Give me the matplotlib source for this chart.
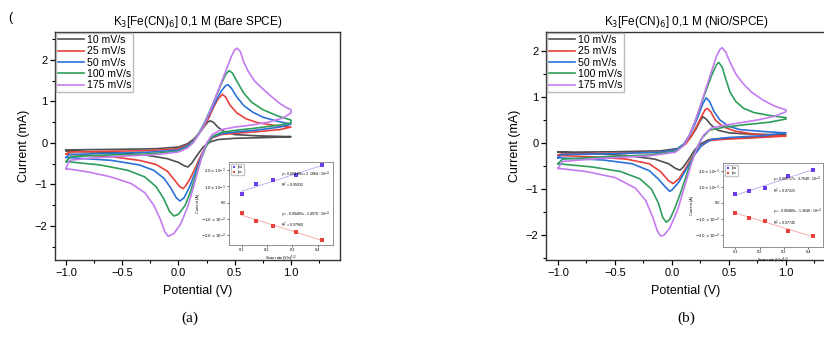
import numpy as np
import matplotlib
matplotlib.use('Agg')
import matplotlib.pyplot as plt
from matplotlib.ticker import MultipleLocator, FixedLocator

plt.rcParams['font.family'] = ['Liberation Sans', 'DejaVu Sans']

### CV curves, (E [V], I [mA]), loop -1 -> +1 -> -1
labels = ['10 mV/s', '25 mV/s', '50 mV/s', '100 mV/s', '175 mV/s']
colors = ['#505050', '#e8413c', '#2a72d8', '#2e9e5a', '#c47bf0']

bare_10 = [(-1.0,-0.17),(-0.7,-0.16),(-0.4,-0.15),(-0.2,-0.14),(0.0,-0.1),(0.08,-0.02),(0.14,0.1),(0.19,0.25),
           (0.23,0.4),(0.26,0.5),(0.28,0.53),(0.31,0.5),(0.35,0.38),(0.4,0.28),(0.5,0.2),(0.7,0.17),(1.0,0.15),
           (0.8,0.13),(0.5,0.11),(0.35,0.08),(0.28,0.02),(0.22,-0.1),(0.17,-0.28),(0.12,-0.48),(0.085,-0.58),
           (0.05,-0.55),(0.0,-0.47),(-0.1,-0.38),(-0.3,-0.29),(-0.6,-0.23),(-1.0,-0.2),(-1.0,-0.17)]
bare_25 = [(-1.0,-0.27),(-0.97,-0.22),(-0.6,-0.2),(-0.3,-0.19),(0.0,-0.14),(0.08,-0.05),(0.13,0.05),(0.18,0.22),
           (0.23,0.42),(0.27,0.6),(0.31,0.85),(0.35,1.05),(0.39,1.17),(0.42,1.1),(0.46,0.9),(0.52,0.72),(0.6,0.58),
           (0.7,0.49),(0.85,0.42),(1.0,0.38),(0.9,0.32),(0.7,0.27),(0.5,0.23),(0.38,0.2),(0.3,0.12),(0.25,-0.05),
           (0.2,-0.3),(0.15,-0.6),(0.1,-0.88),(0.06,-1.05),(0.04,-1.1),(0.01,-1.05),(-0.04,-0.88),(-0.1,-0.68),
           (-0.2,-0.52),(-0.35,-0.42),(-0.6,-0.33),(-1.0,-0.27)]
bare_50 = [(-1.0,-0.35),(-0.97,-0.28),(-0.6,-0.25),(-0.3,-0.23),(0.0,-0.17),(0.08,-0.07),(0.13,0.04),(0.18,0.22),
           (0.23,0.45),(0.28,0.72),(0.33,1.0),(0.38,1.25),(0.42,1.38),(0.44,1.4),(0.47,1.32),(0.52,1.1),(0.58,0.9),
           (0.66,0.74),(0.75,0.62),(0.88,0.52),(1.0,0.45),(0.9,0.38),(0.7,0.31),(0.5,0.26),(0.38,0.22),(0.3,0.14),
           (0.25,-0.05),(0.2,-0.35),(0.15,-0.7),(0.1,-1.05),(0.05,-1.32),(0.013,-1.4),(-0.02,-1.32),(-0.07,-1.08),
           (-0.13,-0.85),(-0.22,-0.66),(-0.35,-0.53),(-0.6,-0.42),(-1.0,-0.35)]
bare_100 = [(-1.0,-0.45),(-0.96,-0.33),(-0.6,-0.29),(-0.3,-0.27),(0.0,-0.2),(0.08,-0.1),(0.13,0.02),(0.18,0.22),
            (0.23,0.48),(0.28,0.78),(0.33,1.1),(0.38,1.42),(0.42,1.65),(0.45,1.74),(0.48,1.68),(0.52,1.48),
            (0.58,1.2),(0.65,0.98),(0.75,0.8),(0.88,0.65),(1.0,0.55),(1.0,0.48),(0.9,0.43),(0.7,0.36),(0.5,0.3),
            (0.38,0.25),(0.3,0.15),(0.25,-0.05),(0.2,-0.4),(0.15,-0.8),(0.11,-1.15),(0.06,-1.5),(0.0,-1.72),
            (-0.04,-1.76),(-0.08,-1.65),(-0.13,-1.35),(-0.2,-1.05),(-0.3,-0.82),(-0.45,-0.66),(-0.7,-0.53),(-1.0,-0.45)]
bare_175 = [(-1.0,-0.62),(-0.97,-0.42),(-0.8,-0.37),(-0.5,-0.32),(-0.2,-0.28),(0.0,-0.22),(0.08,-0.12),(0.13,0.0),
            (0.18,0.2),(0.23,0.45),(0.28,0.76),(0.33,1.1),(0.38,1.45),(0.43,1.8),(0.47,2.08),(0.5,2.24),(0.52,2.28),
            (0.55,2.2),(0.58,1.95),(0.62,1.72),(0.68,1.48),(0.75,1.3),(0.82,1.13),(0.9,0.95),(0.96,0.85),(1.0,0.8),
            (1.0,0.72),(0.93,0.6),(0.8,0.5),(0.65,0.43),(0.5,0.38),(0.38,0.32),(0.3,0.2),(0.25,0.0),(0.21,-0.3),
            (0.17,-0.7),(0.13,-1.1),(0.08,-1.55),(0.02,-1.95),(-0.04,-2.18),(-0.09,-2.25),(-0.12,-2.15),
            (-0.16,-1.85),(-0.22,-1.5),(-0.3,-1.2),(-0.42,-0.98),(-0.6,-0.82),(-0.8,-0.7),(-1.0,-0.62)]

nio_10 = [(-1.0,-0.2),(-0.5,-0.19),(-0.1,-0.17),(0.05,-0.12),(0.12,0.0),(0.17,0.15),(0.21,0.3),(0.24,0.45),
          (0.27,0.57),(0.3,0.52),(0.34,0.4),(0.4,0.28),(0.5,0.22),(0.7,0.19),(1.0,0.18),(0.7,0.12),(0.45,0.1),
          (0.32,0.07),(0.25,-0.02),(0.2,-0.15),(0.14,-0.38),(0.1,-0.52),(0.07,-0.59),(0.03,-0.55),(-0.03,-0.45),
          (-0.15,-0.35),(-0.4,-0.27),(-0.7,-0.23),(-1.0,-0.2)]
nio_25 = [(-1.0,-0.27),(-0.97,-0.24),(-0.5,-0.22),(-0.1,-0.2),(0.05,-0.14),(0.12,-0.02),(0.17,0.15),(0.22,0.38),
          (0.26,0.58),(0.29,0.72),(0.31,0.75),(0.34,0.68),(0.38,0.5),(0.45,0.35),(0.55,0.26),(0.7,0.2),(1.0,0.15),
          (0.7,0.11),(0.45,0.08),(0.32,0.05),(0.25,-0.08),(0.18,-0.3),(0.12,-0.55),(0.06,-0.78),(0.01,-0.88),
          (-0.03,-0.82),(-0.1,-0.62),(-0.2,-0.45),(-0.4,-0.35),(-0.7,-0.3),(-1.0,-0.27)]
nio_50 = [(-1.0,-0.32),(-0.97,-0.25),(-0.5,-0.23),(-0.1,-0.2),(0.04,-0.14),(0.1,-0.03),(0.15,0.15),(0.2,0.4),
          (0.24,0.65),(0.27,0.85),(0.3,0.98),(0.33,0.9),(0.37,0.68),(0.42,0.5),(0.5,0.36),(0.6,0.29),(0.8,0.25),
          (1.0,0.22),(0.8,0.16),(0.5,0.12),(0.35,0.08),(0.26,-0.05),(0.2,-0.25),(0.13,-0.55),(0.06,-0.85),
          (0.0,-1.02),(-0.02,-1.05),(-0.06,-0.95),(-0.12,-0.78),(-0.2,-0.6),(-0.35,-0.45),(-0.6,-0.37),(-1.0,-0.32)]
nio_100 = [(-1.0,-0.45),(-0.96,-0.35),(-0.6,-0.3),(-0.2,-0.26),(0.03,-0.18),(0.1,-0.05),(0.15,0.15),(0.2,0.45),
           (0.25,0.8),(0.3,1.15),(0.35,1.48),(0.39,1.7),(0.41,1.75),(0.44,1.65),(0.47,1.4),(0.51,1.1),(0.56,0.9),
           (0.63,0.75),(0.72,0.66),(0.85,0.6),(1.0,0.55),(1.0,0.52),(0.85,0.45),(0.65,0.4),(0.45,0.34),(0.33,0.28),
           (0.26,0.1),(0.2,-0.2),(0.14,-0.6),(0.08,-1.05),(0.02,-1.45),(-0.02,-1.66),(-0.05,-1.72),(-0.08,-1.62),
           (-0.12,-1.3),(-0.18,-1.0),(-0.28,-0.78),(-0.45,-0.62),(-0.7,-0.52),(-1.0,-0.45)]
nio_175 = [(-1.0,-0.55),(-0.96,-0.4),(-0.6,-0.33),(-0.2,-0.28),(0.03,-0.2),(0.1,-0.06),(0.15,0.15),(0.2,0.45),
           (0.25,0.82),(0.3,1.2),(0.35,1.58),(0.39,1.88),(0.42,2.03),(0.44,2.07),(0.47,1.98),(0.51,1.75),(0.56,1.5),
           (0.62,1.3),(0.7,1.1),(0.8,0.93),(0.9,0.8),(1.0,0.72),(1.0,0.68),(0.9,0.58),(0.75,0.5),(0.6,0.44),
           (0.45,0.38),(0.35,0.33),(0.28,0.18),(0.22,-0.1),(0.17,-0.45),(0.11,-0.95),(0.05,-1.45),(-0.02,-1.85),
           (-0.07,-2.0),(-0.1,-2.02),(-0.13,-1.9),(-0.17,-1.6),(-0.23,-1.25),(-0.32,-0.98),(-0.5,-0.75),
           (-0.75,-0.62),(-1.0,-0.55)]

### Inset: peak currents vs sqrt(scan rate)
sqrt_rate = [0.1, 0.158, 0.224, 0.316, 0.418]
bare_ipa = [0.55e-3, 1.15e-3, 1.4e-3, 1.7e-3, 2.3e-3]
bare_ipc = [-0.65e-3, -1.15e-3, -1.45e-3, -1.8e-3, -2.3e-3]
nio_ipa = [0.56e-3, 0.75e-3, 0.94e-3, 1.7e-3, 2.06e-3]
nio_ipc = [-0.62e-3, -0.92e-3, -1.1e-3, -1.75e-3, -2.06e-3]
bare_fit_txt = ['y = 0.00488x + 2.1864 $\\cdot$ 10$^{-4}$\nR$^2$ = 0.95032',
                'y = -0.00485x - 2.4070 $\\cdot$ 10$^{-4}$\nR$^2$ = 0.97960']
nio_fit_txt = ['y = 0.00517x - 3.7648 $\\cdot$ 10$^{-4}$\nR$^2$ = 0.97221',
               'y = -0.00480x - 1.3648 $\\cdot$ 10$^{-4}$\nR$^2$ = 0.97745']

W, H = 824, 339
fig = plt.figure(figsize=(W/100, H/100), dpi=100)

def px(x0, y0, x1, y1):
    return [x0/W, 1-y1/H, (x1-x0)/W, (y1-y0)/H]

def main_panel(rect, curves, title, xlim, ylim):
    ax = fig.add_axes(rect)
    for c, lab, col in zip(curves, labels, colors):
        arr = np.array(c)
        ax.plot(arr[:, 0], arr[:, 1], color=col, lw=1.2, label=lab, solid_joinstyle='round')
    ax.set_xlim(*xlim)
    ax.set_ylim(*ylim)
    ax.xaxis.set_major_locator(FixedLocator([-1.0, -0.5, 0.0, 0.5, 1.0]))
    ax.xaxis.set_minor_locator(MultipleLocator(0.25))
    ax.yaxis.set_major_locator(FixedLocator([-2, -1, 0, 1, 2]))
    ax.yaxis.set_minor_locator(MultipleLocator(0.5))
    ax.tick_params(which='major', direction='out', length=3.5, width=0.9, labelsize=8, pad=2)
    ax.tick_params(which='minor', direction='out', length=2, width=0.8)
    ax.xaxis.set_major_formatter(plt.FuncFormatter(lambda v, p: ('%.1f' % v).replace('-', '\u2212')))
    ax.yaxis.set_major_formatter(plt.FuncFormatter(lambda v, p: ('%d' % v).replace('-', '\u2212')))
    for s in ax.spines.values():
        s.set_linewidth(1.0)
        s.set_color('#333333')
    ax.set_xlabel('Potential (V)', fontsize=9, labelpad=5)
    ax.set_ylabel('Current (mA)', fontsize=9, labelpad=3)
    ax.set_title(title, fontsize=8.5, pad=5)
    ax.legend(loc='upper left', fontsize=7.6, frameon=True, fancybox=False, edgecolor='#aaaaaa',
              handlelength=2.4, labelspacing=0.12, borderpad=0.2, borderaxespad=0.1, handletextpad=0.3)
    return ax

def inset(rect, ipa, ipc, txt, txt_y, ylim):
    ai = fig.add_axes(rect)
    ai.set_facecolor('white')
    xs = np.array(sqrt_rate)
    for ys, mc, lc, lab in [(ipa, '#6a3de8', '#b7a4f2', 'Ipa'), (ipc, '#e8403a', '#f4a3a0', 'Ipc')]:
        k, b = np.polyfit(xs, ys, 1)
        xx = np.array([0.1, 0.418])
        ai.plot(xx, k*xx + b, color=lc, lw=0.6, zorder=1)
        ai.scatter(xs, ys, s=5, marker='s', color=mc, label=lab, zorder=2, linewidths=0)
    for t, ty in zip(txt, txt_y):
        ai.text(0.255, ty, t, fontsize=2.6, va='center', ha='left')
    ai.set_xlim(0.05, 0.46)
    ai.set_ylim(*ylim)
    ai.set_xticks([0.1, 0.2, 0.3, 0.4])
    ai.set_yticks([-2e-3, -1e-3, 0, 1e-3, 2e-3])
    ai.set_yticklabels(['$-2.0\\times10^{-3}$', '$-1.0\\times10^{-3}$', '0.0',
                        '$1.0\\times10^{-3}$', '$2.0\\times10^{-3}$'])
    ai.tick_params(labelsize=2.8, length=1.2, width=0.4, pad=1)
    for s in ai.spines.values():
        s.set_linewidth(0.5)
        s.set_color('#666666')
    ai.set_xlabel('Scan rate (V/s)$^{1/2}$', fontsize=2.8, labelpad=1)
    ai.set_ylabel('Current (A)', fontsize=2.8, labelpad=1)
    ai.legend(loc='upper left', fontsize=2.6, frameon=True, fancybox=False, edgecolor='#bbbbbb',
              markerscale=0.8, handlelength=1.2, borderpad=0.3, labelspacing=0.3, handletextpad=0.4)
    return ai

main_panel(px(55, 32, 340, 260), [bare_10, bare_25, bare_50, bare_100, bare_175],
           'K$_3$[Fe(CN)$_6$] 0,1 M (Bare SPCE)', (-1.098, 1.436), (-2.82, 2.67))
main_panel(px(546, 32, 826, 260), [nio_10, nio_25, nio_50, nio_100, nio_175],
           'K$_3$[Fe(CN)$_6$] 0,1 M (NiO/SPCE)', (-1.105, 1.351), (-2.54, 2.41))

inset(px(229, 162, 333, 245), bare_ipa, bare_ipc, bare_fit_txt, [1.4e-3, -1.05e-3], (-2.6e-3, 2.5e-3))
inset(px(723, 163, 823, 247), nio_ipa, nio_ipc, nio_fit_txt, [1.1e-3, -0.9e-3], (-2.75e-3, 2.5e-3))

fig.text(8/W, 1-18/H, '(', fontsize=9, ha='left', va='center')
fig.text(190/W, 1-318/H, '(a)', fontsize=11, ha='center', va='center', family='Liberation Serif')
fig.text(686/W, 1-318/H, '(b)', fontsize=11, ha='center', va='center', family='Liberation Serif')

fig.savefig('out.png', dpi=100)
